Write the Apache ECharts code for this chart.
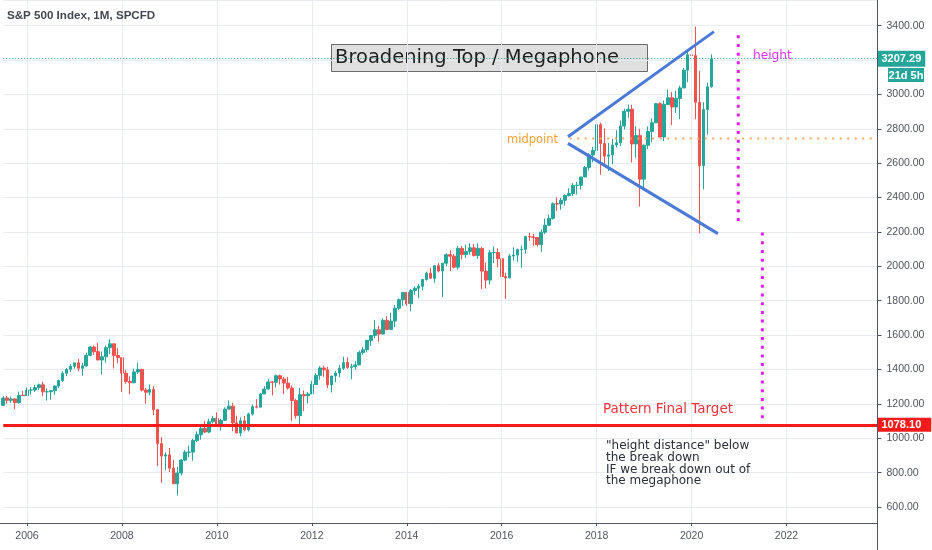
<!DOCTYPE html>
<html>
<head>
<meta charset="utf-8">
<script src="https://cdn.jsdelivr.net/npm/echarts@6/dist/echarts.min.js"></script>
<style>
html,body{margin:0;padding:0;background:#fff;}
#chart{width:932px;height:550px;}
</style>
</head>
<body>
<div id="chart"></div>
<script>
// Monthly candles, Jul 2005 .. Jun 2020
const opens = [
 1191.33,1234.18,1220.33,1228.81,1207.01,1249.48,
 1248.29,1280.08,1280.66,1294.83,1310.61,1270.09,1270.20,1276.66,1303.82,1335.85,1377.94,1400.63,
 1418.30,1438.24,1406.82,1420.86,1482.37,1530.62,1503.35,1455.27,1473.99,1526.75,1549.38,1481.14,
 1468.36,1378.55,1330.63,1322.70,1385.59,1400.38,1280.00,1267.38,1282.83,1166.36,968.75,896.24,
 903.25,825.88,735.09,797.87,872.81,919.14,919.32,987.48,1020.62,1057.08,1036.19,1095.63,
 1115.10,1073.87,1104.49,1169.43,1186.69,1089.41,1030.71,1101.60,1049.33,1141.20,1183.26,1180.55,
 1257.64,1286.12,1327.22,1325.83,1363.61,1345.20,1320.64,1292.28,1218.89,1131.42,1253.30,1246.96,
 1257.60,1312.41,1365.68,1408.47,1397.91,1310.33,1362.16,1379.32,1406.58,1440.67,1412.16,1416.18,
 1426.19,1498.11,1514.68,1569.19,1597.57,1630.74,1606.28,1685.73,1632.97,1681.55,1756.54,1805.81,
 1848.36,1782.59,1859.45,1872.34,1883.95,1923.57,1960.23,1930.67,2003.37,1972.29,2018.05,2067.56,
 2058.90,1994.99,2104.50,2067.89,2085.51,2107.39,2063.11,2103.84,1972.18,1920.03,2079.36,2080.41,
 2043.94,1940.24,1932.23,2059.74,2065.30,2096.95,2098.86,2173.60,2170.95,2168.27,2126.15,2198.81,
 2238.83,2278.87,2363.64,2362.72,2384.20,2411.80,2423.41,2470.30,2471.65,2519.36,2575.26,2647.58,
 2673.61,2823.81,2713.83,2640.87,2648.05,2705.27,2718.37,2816.29,2901.52,2913.98,2711.74,2760.17,
 2506.85,2704.10,2784.49,2834.40,2945.83,2752.06,2941.76,2980.38,2926.46,2976.74,3037.56,3140.98,
 3230.78,3225.52,2954.22,2584.59,2912.43,3044.31
];
const closes = [
 1234.18,1220.33,1228.81,1207.01,1249.48,1248.29,
 1280.08,1280.66,1294.83,1310.61,1270.09,1270.20,1276.66,1303.82,1335.85,1377.94,1400.63,1418.30,
 1438.24,1406.82,1420.86,1482.37,1530.62,1503.35,1455.27,1473.99,1526.75,1549.38,1481.14,1468.36,
 1378.55,1330.63,1322.70,1385.59,1400.38,1280.00,1267.38,1282.83,1166.36,968.75,896.24,903.25,
 825.88,735.09,797.87,872.81,919.14,919.32,987.48,1020.62,1057.08,1036.19,1095.63,1115.10,
 1073.87,1104.49,1169.43,1186.69,1089.41,1030.71,1101.60,1049.33,1141.20,1183.26,1180.55,1257.64,
 1286.12,1327.22,1325.83,1363.61,1345.20,1320.64,1292.28,1218.89,1131.42,1253.30,1246.96,1257.60,
 1312.41,1365.68,1408.47,1397.91,1310.33,1362.16,1379.32,1406.58,1440.67,1412.16,1416.18,1426.19,
 1498.11,1514.68,1569.19,1597.57,1630.74,1606.28,1685.73,1632.97,1681.55,1756.54,1805.81,1848.36,
 1782.59,1859.45,1872.34,1883.95,1923.57,1960.23,1930.67,2003.37,1972.29,2018.05,2067.56,2058.90,
 1994.99,2104.50,2067.89,2085.51,2107.39,2063.11,2103.84,1972.18,1920.03,2079.36,2080.41,2043.94,
 1940.24,1932.23,2059.74,2065.30,2096.95,2098.86,2173.60,2170.95,2168.27,2126.15,2198.81,2238.83,
 2278.87,2363.64,2362.72,2384.20,2411.80,2423.41,2470.30,2471.65,2519.36,2575.26,2647.58,2673.61,
 2823.81,2713.83,2640.87,2648.05,2705.27,2718.37,2816.29,2901.52,2913.98,2711.74,2760.17,2506.85,
 2704.10,2784.49,2834.40,2945.83,2752.06,2941.76,2980.38,2926.46,2976.74,3037.56,3140.98,3230.78,
 3225.52,2954.22,2584.59,2912.43,3044.31,3207.29
];
const lows = [
 1191.33,1201.07,1205.35,1168.20,1201.07,1246.59,
 1245.74,1253.61,1268.42,1280.74,1245.34,1219.29,1224.54,1253.58,1290.93,1327.10,1360.98,1385.93,
 1403.97,1389.42,1363.98,1416.37,1476.70,1484.18,1454.25,1370.60,1439.29,1489.56,1406.10,1435.65,
 1270.05,1316.75,1256.98,1320.00,1373.07,1272.00,1200.44,1248.48,1133.50,839.80,741.02,815.69,
 804.22,734.52,666.79,783.32,866.10,888.86,869.32,978.51,991.97,1029.38,1029.38,1085.89,
 1071.59,1044.50,1101.36,1167.46,1040.78,1028.33,1010.91,1039.70,1039.70,1131.87,1173.00,1180.00,
 1257.62,1282.86,1249.05,1294.70,1311.80,1258.07,1282.86,1101.54,1114.22,1074.77,1158.66,1202.37,
 1257.60,1312.41,1340.03,1357.38,1291.98,1266.74,1325.41,1354.65,1396.56,1403.28,1343.35,1398.11,
 1426.19,1485.01,1501.48,1536.03,1581.28,1560.33,1604.57,1627.47,1632.97,1646.47,1746.20,1767.99,
 1770.45,1737.92,1834.44,1814.36,1859.79,1915.98,1930.67,1904.78,1964.04,1820.66,2001.01,1972.56,
 1988.12,1980.90,2039.69,2048.38,2067.93,2056.32,2044.02,1867.01,1871.91,1893.70,2019.39,1993.26,
 1812.29,1810.10,1931.81,2033.80,2025.91,1991.68,2074.02,2147.58,2119.12,2114.72,2083.79,2187.44,
 2233.62,2271.65,2322.25,2328.95,2352.72,2405.70,2407.70,2417.35,2446.55,2519.36,2557.45,2605.52,
 2673.61,2532.69,2585.89,2553.80,2594.62,2691.99,2698.95,2796.34,2864.12,2603.54,2631.09,2346.58,
 2443.96,2681.83,2722.27,2834.40,2750.52,2728.81,2941.76,2822.12,2891.85,2855.94,3037.56,3070.33,
 3214.64,2855.84,2191.86,2447.49,2766.64,3038.78
];
const highs = [
 1245.15,1245.86,1243.13,1233.34,1270.64,1275.80,
 1294.90,1297.57,1310.88,1318.16,1326.70,1290.68,1280.42,1306.74,1340.28,1389.45,1407.89,1431.81,
 1441.61,1461.57,1438.89,1498.02,1535.56,1540.56,1555.90,1503.89,1538.74,1576.09,1552.00,1523.57,
 1471.77,1396.02,1359.68,1404.57,1440.24,1404.05,1292.17,1313.15,1303.04,1167.03,1007.51,918.85,
 943.85,875.01,832.98,878.65,930.17,956.23,996.68,1039.47,1080.15,1101.36,1113.69,1130.38,
 1150.45,1112.42,1180.16,1219.80,1205.13,1131.23,1120.95,1129.24,1148.90,1196.14,1227.08,1262.60,
 1302.67,1344.07,1332.28,1370.58,1370.58,1356.48,1356.48,1307.38,1229.29,1292.66,1277.55,1269.37,
 1333.47,1378.04,1419.15,1422.38,1415.32,1363.46,1391.74,1426.68,1474.51,1470.96,1434.27,1448.00,
 1509.94,1530.94,1570.28,1597.57,1687.18,1654.19,1698.78,1709.67,1729.86,1775.22,1813.55,1849.44,
 1850.84,1867.92,1883.97,1897.28,1924.03,1968.17,1991.39,2005.04,2019.26,2018.19,2075.76,2093.55,
 2072.36,2119.59,2117.52,2125.92,2134.72,2129.87,2132.82,2112.66,2020.86,2094.32,2116.48,2104.27,
 2044.00,1962.96,2072.21,2111.05,2103.48,2120.55,2177.09,2193.81,2187.87,2169.60,2214.10,2277.53,
 2300.99,2371.54,2400.98,2398.16,2418.71,2453.82,2484.04,2490.87,2519.44,2582.98,2657.74,2694.97,
 2872.87,2835.96,2801.90,2717.49,2742.24,2791.47,2848.03,2916.50,2940.91,2939.86,2815.15,2800.18,
 2708.95,2813.49,2860.31,2949.52,2954.13,2964.15,3027.98,3013.59,3021.99,3050.10,3154.26,3247.93,
 3337.77,3393.52,3136.72,2954.86,3068.67,3233.13
];
const tickYears = ['2006','2008','2010','2012','2014','2016','2018','2020','2022'];
const lastPrice = 3207.29;
const targetPrice = 1078.10;
// drawings: [monthIndex, price] pairs (month index 0 = Jul 2005)
const upperLine = [[142.76, 2754], [179.65, 3365]];
const lowerLine = [[142.76, 2715], [180.66, 2190]];
const midLine = [[143.2, 2744], [221, 2744]];
const heightLine = [[185.8, 3344], [185.8, 2243]];
const heightLine2 = [[191.9, 2196], [191.9, 1097]];

// month categories Jul 2005 .. Dec 2023
const categories = [];
for (let y = 2005, m = 7; y < 2024; ) {
  categories.push(y + '-' + String(m).padStart(2, '0'));
  m++; if (m > 12) { m = 1; y++; }
}
const candleData = opens.map((o, i) => [o, closes[i], lows[i], highs[i]]);
const isTick = (i, v) => v.slice(5) === '01' && tickYears.indexOf(v.slice(0, 4)) >= 0;
const yearGrid = tickYears.map(y => ({xAxis: y + '-01'}));

const AX = '#50535e';
const GRID = '#e8ebf0';
const chart = echarts.init(document.getElementById('chart'), null, {renderer: 'canvas'});
const dark = 'Liberation Sans, Arial, sans-serif';
const dv = 'DejaVu Sans, Verdana, sans-serif';
function lineSeries(data, color, width, type) {
  return {
    type: 'line', xAxisIndex: 1, yAxisIndex: 0, data: data, symbol: 'none', silent: true,
    lineStyle: {color: color, width: width, type: type, cap: 'butt'}, z: 5
  };
}
chart.setOption({
  animation: false,
  grid: {left: 3.25, right: 54.5, top: 0, bottom: 27, containLabel: false},
  xAxis: [{
    type: 'category', data: categories, boundaryGap: false,
    axisLine: {show: false, onZero: false},
    axisTick: {show: true, interval: isTick, length: 3, lineStyle: {color: AX}},
    axisLabel: {interval: isTick, formatter: v => v.slice(0, 4), color: AX, fontSize: 10.5,
      fontFamily: dark, margin: 8},
    splitLine: {show: false}
  }, {
    type: 'value', min: 0, max: 221, show: false,
    axisLine: {onZero: false}
  }],
  yAxis: [{
    type: 'value', position: 'right', min: 507, max: 3549, splitNumber: 15,
    minInterval: 200, maxInterval: 200, scale: true,
    axisLine: {show: false, onZero: false},
    axisTick: {show: true, length: 4, lineStyle: {color: AX}},
    axisLabel: {formatter: v => v.toFixed(2), showMinLabel: false, showMaxLabel: false,
      color: AX, fontSize: 10.5, fontFamily: dark, margin: 9},
    splitLine: {show: true, lineStyle: {color: GRID, width: 1}}
  }],
  series: [{
    type: 'line', data: [], silent: true, z: 1,
    markLine: {symbol: 'none', silent: true, animation: false, label: {show: false},
      lineStyle: {color: GRID, width: 1, type: 'solid'}, data: yearGrid}
  }, {
    type: 'candlestick', data: candleData, barWidth: 3.2, z: 2,
    itemStyle: {color: '#26a69a', color0: '#ef5350', borderColor: '#26a69a', borderColor0: '#ef5350', borderWidth: 1},
    markLine: {
      symbol: 'none', silent: true, animation: false,
      data: [
        {yAxis: lastPrice, lineStyle: {color: '#1f9a8e', width: 1, type: [1, 2]},
          label: {show: true, position: 'end', distance: 0, formatter: lastPrice.toFixed(2),
            backgroundColor: '#26a69a', color: '#fff', fontWeight: 'bold', fontSize: 11,
            fontFamily: dark, padding: [3, 4, 2, 4]}},
        {yAxis: targetPrice, lineStyle: {color: '#f51b1b', width: 3, type: 'solid'},
          label: {show: true, position: 'end', distance: 0, formatter: targetPrice.toFixed(2),
            backgroundColor: '#f51b1b', color: '#fff', fontWeight: 'bold', fontSize: 11,
            fontFamily: dark, padding: [2, 10, 1, 4]}}
      ]
    }
  },
    lineSeries(upperLine, '#4a7ad6', 3, 'solid'),
    lineSeries(lowerLine, '#4a7ad6', 3, 'solid'),
    lineSeries(midLine, '#f6a85c', 2, [2, 5.5]),
    lineSeries(heightLine, '#e11df5', 3, [3, 5.7]),
    lineSeries(heightLine2, '#e11df5', 3, [3, 5.7])
  ],
  graphic: [
    {type: 'line', z: 10, shape: {x1: 877.5, y1: 0, x2: 877.5, y2: 550}, style: {stroke: AX, lineWidth: 1}},
    {type: 'line', z: 10, shape: {x1: 0, y1: 523.5, x2: 877.5, y2: 523.5}, style: {stroke: AX, lineWidth: 1}},
    {type: 'text', z: 10, style: {x: 7, y: 16, text: 'S&P 500 Index, 1M, SPCFD', fill: '#434651',
      font: 'bold 11.6px ' + dark, textVerticalAlign: 'middle'}},
    {type: 'rect', z: 0, shape: {x: 331.5, y: 44.5, width: 316, height: 27}, style: {fill: '#dfdfdf', stroke: '#6b6b6b', lineWidth: 1}},
    {type: 'text', z: 1, style: {x: 335, y: 58, text: 'Broadening Top / Megaphone', fill: '#1e1e1e',
      font: '19.5px ' + dv, textVerticalAlign: 'middle'}},
    {type: 'text', z: 10, style: {x: 507, y: 140, text: 'midpoint', fill: '#f6a033',
      font: '11.5px ' + dv, textVerticalAlign: 'middle'}},
    {type: 'text', z: 10, style: {x: 753, y: 56, text: 'height', fill: '#e033f0',
      font: '12.2px ' + dv, textVerticalAlign: 'middle'}},
    {type: 'text', z: 10, style: {x: 603, y: 409, text: 'Pattern Final Target', fill: '#f0323c',
      font: '13.5px ' + dv, textVerticalAlign: 'middle'}},
    {type: 'text', z: 10, style: {x: 606, y: 440, text: '"height distance" below\nthe break down\nIF we break down out of\nthe megaphone',
      fill: '#2a2e39', font: '12px ' + dv, lineHeight: 11.8, textVerticalAlign: 'top'}},
    {type: 'rect', z: 10, shape: {x: 888, y: 68, width: 36, height: 14}, style: {fill: '#26a69a'}},
    {type: 'text', z: 11, style: {x: 906, y: 75.5, text: '21d 5h', fill: '#fff', font: 'bold 11px ' + dark,
      textAlign: 'center', textVerticalAlign: 'middle'}}
  ]
});
</script>
</body>
</html>
